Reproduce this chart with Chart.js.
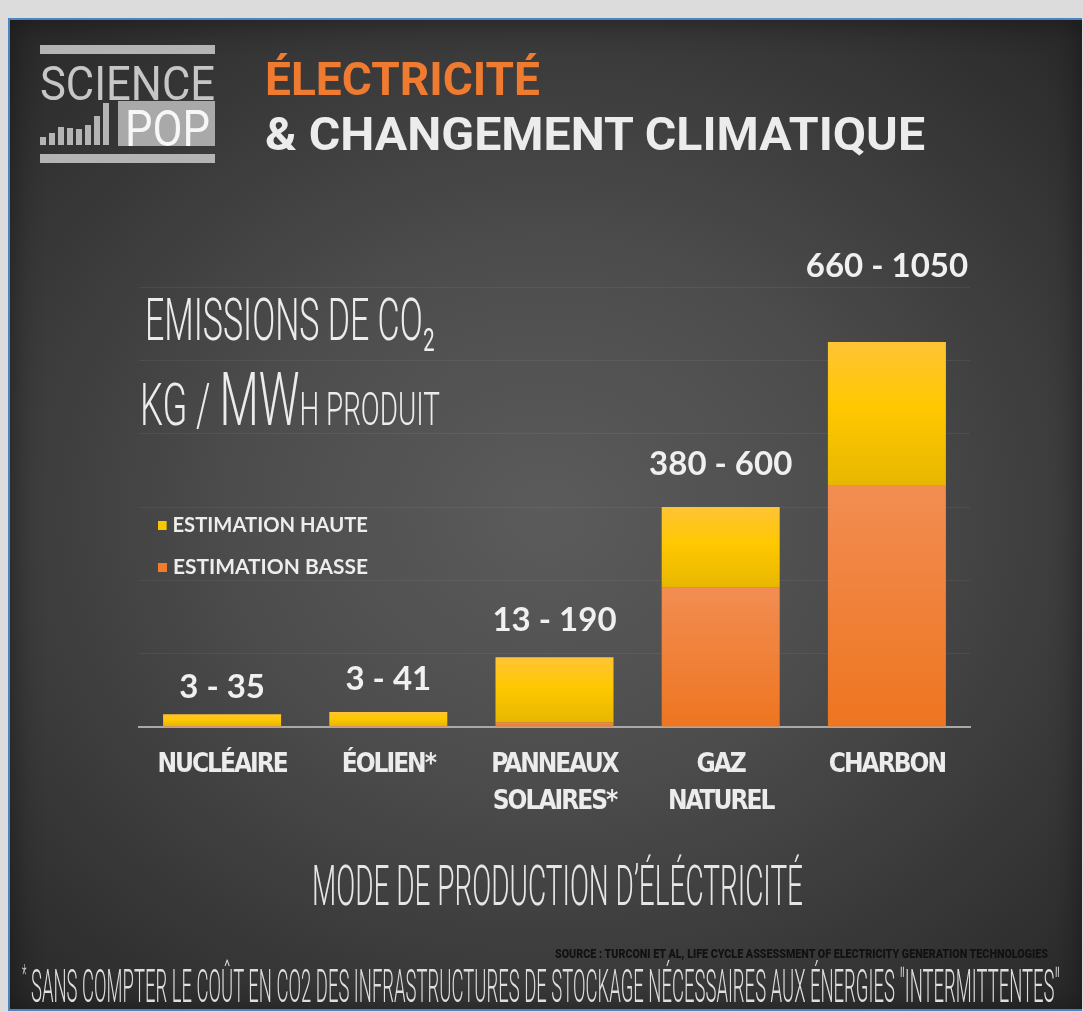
<!DOCTYPE html>
<html lang="fr">
<head>
<meta charset="utf-8">
<title>Électricité & changement climatique</title>
<script src="https://cdn.jsdelivr.net/npm/chart.js@4.4.1/dist/chart.umd.min.js"></script>
<style>
  html, body { margin: 0; padding: 0; }
  body { width: 1083px; height: 1012px; background: #dcdcdc; position: relative; overflow: hidden; }
  #panel {
    position: absolute; left: 8px; top: 18px; width: 1072px; height: 989px;
    border-top: 2px solid #4a84c2; border-left: 2px solid #4a84c2; border-bottom: 2px solid #4a84c2;
    background: radial-gradient(ellipse 70% 65% at 50% 50%, #5b5b5b 0%, #4d4d4d 40%, #393939 75%, #2b2b2b 100%);
    box-shadow: inset 0 0 30px rgba(0,0,0,0.45);
  }
  #chart { position: absolute; left: 0; top: 0; }
  .txt { position: absolute; white-space: nowrap; line-height: 1; transform-origin: 0 0; }
  .bar { position: absolute; background: #b4b4b4; }
  #logoBars { position: absolute; left: 40px; top: 103px; height: 42px; display: flex; align-items: flex-end; gap: 3px; }
  #logoBars span { display: block; width: 6px; background: #b4b4b4; }
  #pop { position: absolute; left: 118px; top: 101px; width: 97px; height: 45px; background: #a9a9a9; }
  .leg { position: absolute; left: 158px; font: 700 21px Lato, sans-serif; color: #ededed; white-space: nowrap; line-height: 1; }
  .leg i { display: inline-block; width: 9px; height: 9px; margin-right: 6px; vertical-align: 2px; }
</style>
</head>
<body>
<div id="panel"></div>
<canvas id="chart" width="1083" height="1012"></canvas>

<!-- logo -->
<div class="bar" style="left:40px;top:45px;width:175px;height:9px"></div>
<div class="txt" data-w="175" style="left:40px;top:55px;font:400 48px Roboto,sans-serif;color:#c6c6c6">SCIENCE</div>
<div id="logoBars"></div>
<div id="pop"></div>
<div class="txt" data-w="85" style="left:125px;top:100px;font:400 50px Roboto,sans-serif;color:#f7f7f7">POP</div>
<div class="bar" style="left:40px;top:154px;width:175px;height:9px"></div>

<!-- titre -->
<div class="txt" data-w="275" style="left:265px;top:52px;font:700 46px Roboto,sans-serif;color:#ef7b31">ÉLECTRICITÉ</div>
<div class="txt" data-w="660" style="left:265px;top:107px;font:700 46px Roboto,sans-serif;color:#ececec">&amp; CHANGEMENT CLIMATIQUE</div>

<!-- titre de l'axe -->
<div class="txt" data-w="290" style="left:145px;top:284px;font:300 60px Roboto,sans-serif;color:#ececec">EMISSIONS DE CO₂</div>
<div class="txt" data-w="300" style="left:140px;top:355px;font:300 60px Roboto,sans-serif;color:#ececec">KG / <span style="font-size:75px">MW</span><span style="font-size:46px">H PRODUIT</span></div>

<div id="legend"></div>

<div class="txt" data-w="491" style="left:312px;top:853px;font:300 56px Roboto,sans-serif;color:#e6e6e6">MODE DE PRODUCTION D’ÉLÉCTRICITÉ</div>
<div class="txt" data-w="493" style="left:555px;top:947px;font:900 12px Roboto,sans-serif;color:#111">SOURCE : TURCONI ET AL, LIFE CYCLE ASSESSMENT OF ELECTRICITY GENERATION TECHNOLOGIES</div>
<div class="txt" data-w="1038" style="left:22px;top:959px;font:300 46px Roboto,sans-serif;color:#dedede"><span style="font-size:26px;vertical-align:top">*</span> SANS COMPTER LE COÛT EN CO2 DES INFRASTRUCTURES DE STOCKAGE NÉCESSAIRES AUX ÉNERGIES "INTERMITTENTES"</div>

<script>
// ---- données (kg CO2 / MWh produit) -----------------------------------------
const categories = [['NUCLÉAIRE'], ['ÉOLIEN*'], ['PANNEAUX', 'SOLAIRES*'], ['GAZ', 'NATUREL'], ['CHARBON']];
const lowEstimates  = [3, 3, 13, 380, 660];
const highEstimates = [35, 41, 190, 600, 1050];
const yTicks = [0, 200, 400, 600, 800, 1000, 1200];

// ecart label / haut de barre, en px
const labelLift = [27, 33, 37, 43, 76];

const YELLOW = '#fbc500';
const ORANGE = '#f07c2c';

// logo : petites barres
const logoHeights = [8, 12, 18, 17, 16, 20, 29, 42];
document.getElementById('logoBars').innerHTML =
  logoHeights.map(h => `<span style="height:${h}px"></span>`).join('');

// ---- dégradés par barre ---------------------------------------------------

function barGradient(ctx, stops, fallback) {
  const chart = ctx.chart;
  if (!chart.chartArea || !chart.scales.y) return fallback;
  const raw = ctx.raw;
  const lo = Array.isArray(raw) ? raw[0] : 0;
  const hi = Array.isArray(raw) ? raw[1] : raw;
  const y = chart.scales.y;
  const top = y.getPixelForValue(hi), bot = y.getPixelForValue(lo);
  if (!isFinite(top) || !isFinite(bot) || bot - top < 1) return fallback;
  const g = chart.ctx.createLinearGradient(0, top, 0, bot);
  stops.forEach(([p, c]) => g.addColorStop(p, c));
  return g;
}

// ---- étiquettes de valeurs ----------------------------------------------------

const rangeLabels = {
  id: 'rangeLabels',
  // labels d'axe un peu serrés (police condensée dans l'original)
  beforeDraw(chart) { chart.ctx.letterSpacing = '-2px'; },
  beforeDatasetsDraw(chart) { chart.ctx.letterSpacing = '0px'; },
  afterDatasetsDraw(chart) {
    const meta = chart.getDatasetMeta(1);
    const ctx = chart.ctx;
    ctx.save();
    ctx.font = '700 33px Lato, sans-serif';
    ctx.fillStyle = '#f0f0f0';
    ctx.textAlign = 'center';
    ctx.textBaseline = 'middle';
    meta.data.forEach((bar, i) => {
      ctx.fillText(lowEstimates[i] + ' - ' + highEstimates[i], bar.x, bar.y - labelLift[i]);
    });
    ctx.restore();
  }
};

const chart = new Chart(document.getElementById('chart'), {
  type: 'bar',
  data: {
    labels: categories,
    datasets: [
      {
        label: 'ESTIMATION BASSE',
        data: lowEstimates,
        backgroundColor: c => barGradient(c, [[0, '#f28d52'], [1, '#ee7520']], ORANGE),
        grouped: false,
        order: 2
      },
      {
        label: 'ESTIMATION HAUTE',
        data: lowEstimates.map((l, i) => [l, highEstimates[i]]),
        backgroundColor: c => barGradient(c, [[0, '#ffc436'], [0.45, '#ffc800'], [1, '#e7b700']], YELLOW),
        grouped: false,
        order: 1
      }
    ]
  },
  options: {
    responsive: false,
    animation: false,
    devicePixelRatio: 1,
    layout: { padding: { left: 139, right: 113, top: 287, bottom: 0 } },
    categoryPercentage: 0.71,
    barPercentage: 1,
    plugins: { legend: { display: false }, tooltip: { enabled: false } },
    scales: {
      x: {
        grid: { display: false, drawTicks: false },
        border: { display: true, color: '#a9a9a9', width: 2 },
        ticks: {
          color: '#ececec',
          padding: 19,
          font: { family: "'Liberation Sans Narrow', 'DejaVu Sans Condensed', Roboto, sans-serif", weight: 'bold', size: 26, lineHeight: 1.45 }
        },
        afterFit: s => { s.height = 1012 - 727; }
      },
      y: {
        min: 0,
        max: 1200,
        afterBuildTicks: s => { s.ticks = yTicks.map(v => ({ value: v })); },
        grid: { color: 'rgba(255,255,255,0.06)', drawTicks: false },
        border: { display: false },
        ticks: { display: false },
        afterFit: s => { s.width = 0; }
      }
    }
  },
  plugins: [rangeLabels]
});

// légende HTML à partir des datasets (haute en premier)
document.getElementById('legend').innerHTML = chart.data.datasets.slice().reverse().map((ds, i) =>
  `<div class="leg txt" data-w="210" style="top:${513 + i * 42}px"><i style="background:${i === 0 ? YELLOW : ORANGE}"></i>${ds.label}</div>`
).join('');

// ajuste la largeur des textes HTML sur celle du modèle
function fitTexts() {
  document.querySelectorAll('.txt[data-w]').forEach(el => {
    el.style.transform = 'none';
    const w = el.getBoundingClientRect().width;
    if (w > 0) el.style.transform = `scaleX(${(+el.dataset.w / w).toFixed(4)})`;
  });
}
fitTexts();
if (document.fonts) document.fonts.ready.then(() => { fitTexts(); chart.update(); });
</script>
</body>
</html>
